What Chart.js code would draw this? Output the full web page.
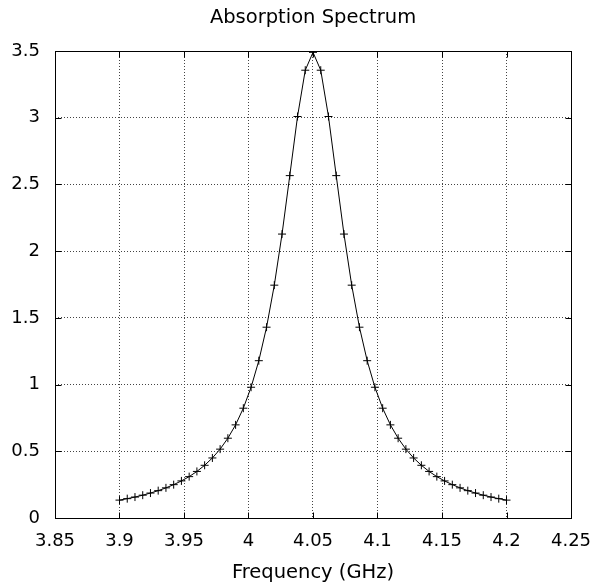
<!DOCTYPE html>
<html><head><meta charset="utf-8">
<script src="https://cdn.jsdelivr.net/npm/chart.js@4"></script>
<style>html,body{margin:0;padding:0;background:#fff}#wrap{width:594px;height:587px}</style>
</head><body><div id="wrap"><canvas id="c" width="594" height="587"></canvas></div>
<script>
const frequencyGHz = [3.900,3.906,3.912,3.918,3.924,3.930,3.936,3.942,3.948,3.954,3.960,3.966,3.972,3.978,3.984,3.990,3.996,4.002,4.008,4.014,4.020,4.026,4.032,4.038,4.044,4.050,4.056,4.062,4.068,4.074,4.080,4.086,4.092,4.098,4.104,4.110,4.116,4.122,4.128,4.134,4.140,4.146,4.152,4.158,4.164,4.170,4.176,4.182,4.188,4.194,4.200];
const absorption = [0.134,0.145,0.157,0.171,0.187,0.205,0.226,0.250,0.278,0.310,0.349,0.395,0.450,0.516,0.598,0.698,0.823,0.980,1.179,1.430,1.745,2.128,2.566,3.009,3.356,3.490,3.356,3.009,2.566,2.128,1.745,1.430,1.179,0.980,0.823,0.698,0.598,0.516,0.450,0.395,0.349,0.310,0.278,0.250,0.226,0.205,0.187,0.171,0.157,0.145,0.134];
const xTickValues = [3.85,3.9,3.95,4.0,4.05,4.1,4.15,4.2,4.25];
const yTickValues = [0,0.5,1,1.5,2,2.5,3,3.5];
const chartTitle = 'Absorption Spectrum';
const xTitle = 'Frequency (GHz)';

const FONT = "'DejaVu Sans', sans-serif";
const points = frequencyGHz.map((f, i) => ({x: f, y: absorption[i]}));

const framePlugin = {
  id: 'frame',
  beforeDatasetsDraw(chart) {
    const {ctx, chartArea: a, scales: {x, y}} = chart;
    const L = Math.round(a.left) + 0.5, R = Math.round(a.right) + 0.5;
    const T = Math.round(a.top) + 0.5, B = Math.round(a.bottom) + 0.5;
    const len = 6;
    ctx.save();
    ctx.strokeStyle = '#000';
    ctx.lineWidth = 1;
    ctx.setLineDash([]);
    ctx.strokeRect(L, T, R - L, B - T);
    ctx.beginPath();
    xTickValues.forEach(v => {
      const px = Math.round(x.getPixelForValue(v)) + 0.5;
      ctx.moveTo(px, B); ctx.lineTo(px, B - len);
      ctx.moveTo(px, T); ctx.lineTo(px, T + len);
    });
    yTickValues.forEach(v => {
      const py = Math.round(y.getPixelForValue(v)) + 0.5;
      ctx.moveTo(L, py); ctx.lineTo(L + len, py);
      ctx.moveTo(R, py); ctx.lineTo(R - len, py);
    });
    ctx.stroke();
    ctx.restore();
  }
};

const fmt = v => String(Number(Number(v).toFixed(2)));

new Chart(document.getElementById('c'), {
  type: 'line',
  data: {
    datasets: [{
      data: points,
      borderColor: '#000',
      borderWidth: 1,
      backgroundColor: '#000',
      pointStyle: 'cross',
      pointRadius: 4,
      pointBorderWidth: 1,
      pointBorderColor: '#000',
      tension: 0,
      fill: false
    }]
  },
  options: {
    responsive: false,
    animation: false,
    devicePixelRatio: 1,
    layout: {padding: {top: 0, left: 0, right: 23, bottom: 0}},
    plugins: {
      legend: {display: false},
      tooltip: {enabled: false},
      title: {
        display: true,
        fullSize: false,
        text: chartTitle,
        color: '#000',
        font: {family: FONT, size: 19.5, weight: 'normal'},
        padding: {top: 6.3, bottom: 21.3}
      }
    },
    scales: {
      x: {
        type: 'linear',
        min: 3.85, max: 4.25,
        afterBuildTicks: s => { s.ticks = xTickValues.map(v => ({value: v})); },
        afterFit: s => { s.height = 69; s.paddingLeft = 0; s.paddingRight = 0; },
        ticks: {
          color: '#000',
          font: {family: FONT, size: 18},
          padding: 12.6,
          maxRotation: 0,
          autoSkip: false,
          callback: v => fmt(v)
        },
        grid: {color: '#444', lineWidth: 1, drawTicks: false},
        border: {display: false, dash: [1, 2]},
        title: {
          display: true,
          text: xTitle,
          color: '#000',
          font: {family: FONT, size: 19.5},
          padding: {top: 0, bottom: 2}
        }
      },
      y: {
        type: 'linear',
        min: 0, max: 3.5,
        afterBuildTicks: s => { s.ticks = yTickValues.map(v => ({value: v})); },
        afterFit: s => { s.width = 55; s.paddingTop = 0; s.paddingBottom = 0; },
        ticks: {
          color: '#000',
          font: {family: FONT, size: 18},
          padding: 15,
          autoSkip: false,
          callback: v => fmt(v)
        },
        grid: {color: '#444', lineWidth: 1, drawTicks: false},
        border: {display: false, dash: [1, 2]}
      }
    }
  },
  plugins: [framePlugin]
});
</script>
</body></html>
